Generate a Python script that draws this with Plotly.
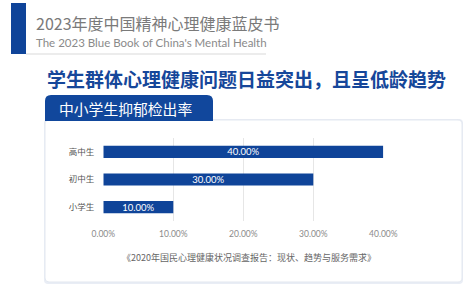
import plotly.graph_objects as go

categories = ["小学生", "初中生", "高中生"]
values = [10, 30, 40]
tick_vals = [0, 10, 20, 30, 40]
tick_text = ["0.00%", "10.00%", "20.00%", "30.00%", "40.00%"]

W, H = 476, 286
def fx(px): return px / W
def fy(py): return 1 - py / H

FONT = "Noto Sans CJK SC, Noto Sans, sans-serif"
BLUE = "#0F4499"

fig = go.Figure()
fig.add_trace(go.Bar(
    y=categories, x=values, orientation="h",
    marker=dict(color=BLUE, line=dict(width=0)),
    width=0.44,
    text=[f"{v:.2f}%" for v in values],
    textposition="inside", insidetextanchor="middle", constraintext="none",
    textfont=dict(color="white", size=9.5, family="Lato, Noto Sans, sans-serif"),
    hoverinfo="skip",
))

def rrect(x0, y0, x1, y1, r, tl=True, tr=True, br=True, bl=True):
    def P(x, y): return f"{fx(x):.5f},{fy(y):.5f}"
    rtl = r if tl else 0; rtr = r if tr else 0; rbr = r if br else 0; rbl = r if bl else 0
    p = f"M {P(x0+rtl, y0)} L {P(x1-rtr, y0)} "
    if rtr: p += f"Q {P(x1, y0)} {P(x1, y0+rtr)} "
    p += f"L {P(x1, y1-rbr)} "
    if rbr: p += f"Q {P(x1, y1)} {P(x1-rbr, y1)} "
    p += f"L {P(x0+rbl, y1)} "
    if rbl: p += f"Q {P(x0, y1)} {P(x0, y1-rbl)} "
    p += f"L {P(x0, y0+rtl)} "
    if rtl: p += f"Q {P(x0, y0)} {P(x0+rtl, y0)} "
    return p + "Z"

shapes = [
    dict(type="rect", xref="paper", yref="paper", x0=fx(11), x1=fx(26), y0=fy(54), y1=fy(3),
         fillcolor=BLUE, line=dict(width=0), layer="below"),
    dict(type="line", xref="paper", yref="paper", x0=fx(26), x1=fx(266), y0=fy(54), y1=fy(54),
         line=dict(color="#d9d9d9", width=1)),
    dict(type="path", xref="paper", yref="paper", path=rrect(44, 119, 463, 284, 4),
         fillcolor="#e9edf5", line=dict(width=0), layer="below"),
    dict(type="path", xref="paper", yref="paper", path=rrect(45, 120, 462, 282, 4),
         fillcolor="white", line=dict(color="#e3e8f0", width=1), layer="below"),
    dict(type="path", xref="paper", yref="paper", path=rrect(45, 95, 213, 121, 6, br=False, bl=False),
         fillcolor="#11479c", line=dict(width=0), layer="below"),
]

annotations = [
    dict(text="2023年度中国精神心理健康蓝皮书", x=fx(34), y=fy(23), xref="paper", yref="paper",
         xanchor="left", yanchor="middle", showarrow=False,
         font=dict(size=16, color="#7a7a7a", family=FONT)),
    dict(text="The 2023 Blue Book of China's Mental Health", x=fx(34), y=fy(42), xref="paper", yref="paper",
         xanchor="left", yanchor="middle", showarrow=False,
         font=dict(size=11.5, color="#8a8a8a", family="Lato, Noto Sans, sans-serif")),
    dict(text="<b>学生群体心理健康问题日益突出，且呈低龄趋势</b>", x=fx(45), y=fy(78), xref="paper", yref="paper",
         xanchor="left", yanchor="middle", showarrow=False,
         font=dict(size=19, color="#16479a", family=FONT)),
    dict(text="中小学生抑郁检出率", x=fx(57), y=fy(108), xref="paper", yref="paper",
         xanchor="left", yanchor="middle", showarrow=False,
         font=dict(size=14.8, color="white", family=FONT)),
    dict(text="《2020年国民心理健康状况调查报告：现状、趋势与服务需求》", x=fx(249), y=fy(257), xref="paper", yref="paper",
         xanchor="center", yanchor="middle", showarrow=False,
         font=dict(size=9, color="#666666", family=FONT)),
]

fig.update_layout(
    width=W, height=H,
    margin=dict(l=0, r=0, t=0, b=0, autoexpand=False),
    paper_bgcolor="white", plot_bgcolor="white",
    showlegend=False,
    shapes=shapes, annotations=annotations,
    xaxis=dict(domain=[fx(103.3), fx(383.3)], range=[0, 40], tickvals=tick_vals, ticktext=tick_text,
               showgrid=True, gridcolor="#e6e6e6", gridwidth=1, zeroline=False, automargin=False,
               showline=False, ticks="", ticklabelstandoff=6,
               tickfont=dict(size=8.5, color="#8a8a8a", family="Lato, Noto Sans, sans-serif")),
    yaxis=dict(domain=[fy(221), fy(138)], showgrid=False, zeroline=False, showline=False,
               ticks="", ticklabelstandoff=8, automargin=False,
               tickfont=dict(size=8.5, color="#555555", family=FONT)),
    bargap=0.5,
)

fig.write_html("out.html")
